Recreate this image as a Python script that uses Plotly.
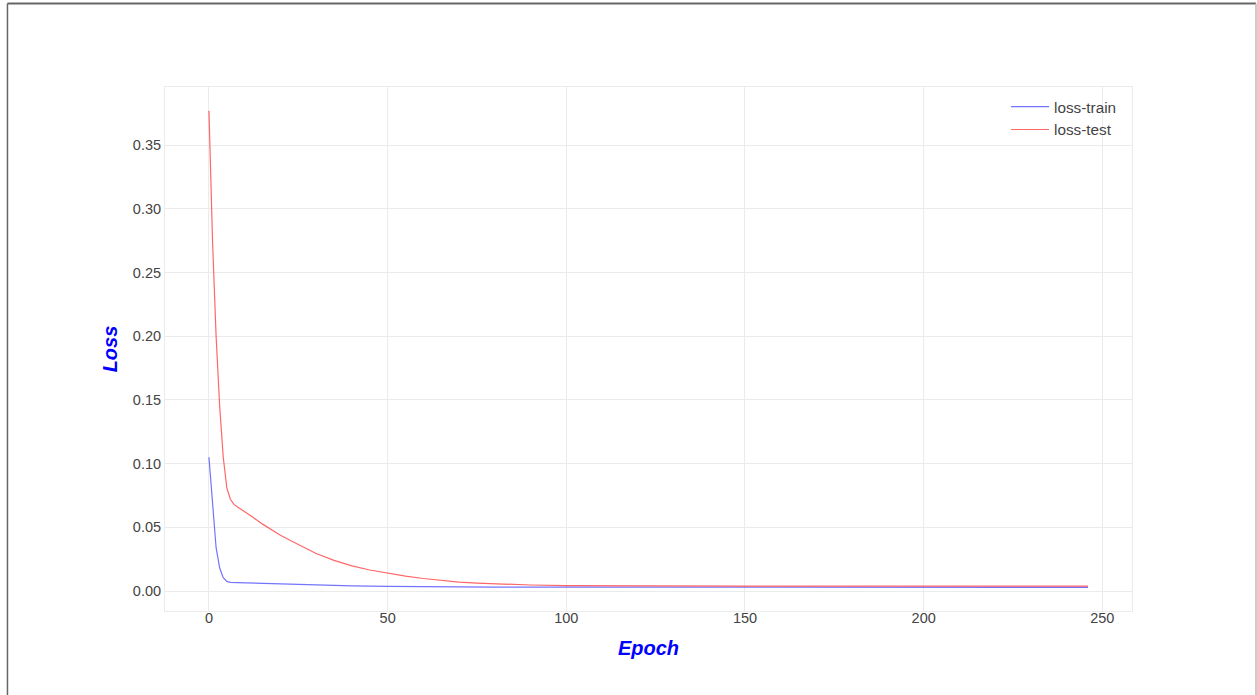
import plotly.graph_objects as go

# Data
train_epochs = [0, 1, 2, 3, 4, 5, 6, 8, 10, 15, 20, 30, 40, 50, 60, 80, 100, 150, 200, 246]
train_loss = [0.105, 0.066, 0.034, 0.018, 0.0105, 0.0075, 0.0068, 0.0066, 0.0064, 0.0060,
              0.0055, 0.0047, 0.0040, 0.0036, 0.0033, 0.0031, 0.0030, 0.0029, 0.0029, 0.0029]

test_epochs = [0, 1, 2, 3, 4, 5, 6, 7, 8, 10, 12, 15, 20, 25, 30, 35, 40, 45, 50, 55, 60,
               65, 70, 75, 80, 85, 90, 100, 110, 120, 150, 200, 246]
test_loss = [0.377, 0.275, 0.200, 0.145, 0.105, 0.081, 0.072, 0.068, 0.066, 0.0625, 0.0585,
             0.0525, 0.0437, 0.0365, 0.0294, 0.0240, 0.0197, 0.0165, 0.0140, 0.0117, 0.0098,
             0.0082, 0.0070, 0.0062, 0.0056, 0.0050, 0.0047, 0.0043, 0.0041, 0.0040, 0.0039,
             0.0038, 0.0038]

x_ticks = [0, 50, 100, 150, 200, 250]
y_ticks = [0.00, 0.05, 0.10, 0.15, 0.20, 0.25, 0.30, 0.35]
y_tick_labels = ["0.00", "0.05", "0.10", "0.15", "0.20", "0.25", "0.30", "0.35"]

FONT = "Arial, Liberation Sans, Helvetica, sans-serif"

fig = go.Figure()
fig.add_trace(go.Scatter(x=train_epochs, y=train_loss, mode="lines", name="loss-train",
                         line=dict(color="rgba(0,0,255,0.55)", width=1.2)))
fig.add_trace(go.Scatter(x=test_epochs, y=test_loss, mode="lines", name="loss-test",
                         line=dict(color="rgba(255,0,0,0.6)", width=1.2)))

grid = "#ebebeb"
fig.update_layout(
    width=1257, height=695,
    margin=dict(l=165, r=125, t=87, b=84),
    paper_bgcolor="white", plot_bgcolor="white",
    font=dict(family=FONT, size=14, color="#444"),
    showlegend=True,
    legend=dict(x=0.9897, y=0.994, xanchor="right", yanchor="top", bgcolor="rgba(0,0,0,0)",
                itemwidth=38, font=dict(size=15.3, color="#444")),
    xaxis=dict(range=[-12.3, 258.3], tickvals=x_ticks, showgrid=True, gridcolor=grid,
               gridwidth=1, zeroline=False, showline=True, mirror=True, linecolor=grid,
               linewidth=1, ticks="", ticklabelstandoff=-6,
               tickfont=dict(size=14.5, color="#444"),
               title=dict(text="<b><i>Epoch</i></b>", font=dict(size=20, color="blue"),
                          standoff=15)),
    yaxis=dict(range=[-0.0157, 0.3957], tickvals=y_ticks, ticktext=y_tick_labels,
               showgrid=True, gridcolor=grid, gridwidth=1, zeroline=False, showline=True,
               mirror=True, linecolor=grid, linewidth=1, ticks="",
               tickfont=dict(size=14.5, color="#444"),
               title=dict(text="<b><i>Loss</i></b>", font=dict(size=20, color="blue"),
                          standoff=9)),
)

# frame around the picture
fig.add_shape(type="line", xref="paper", yref="paper", x0=-0.1629, x1=-0.1629,
              y0=-0.2, y1=1.1594, line=dict(color="#666", width=1.5))
fig.add_shape(type="line", xref="paper", yref="paper", x0=-0.1629, x1=1.1282,
              y0=1.1594, y1=1.1594, line=dict(color="#666", width=2))
fig.add_shape(type="line", xref="paper", yref="paper", x0=1.1282, x1=1.1282,
              y0=-0.2, y1=1.1594, line=dict(color="#bbb", width=1.5))

fig.write_html("out.html", config={"displayModeBar": False},
               post_script="document.body.style.margin='0';document.body.style.overflow='hidden';")
